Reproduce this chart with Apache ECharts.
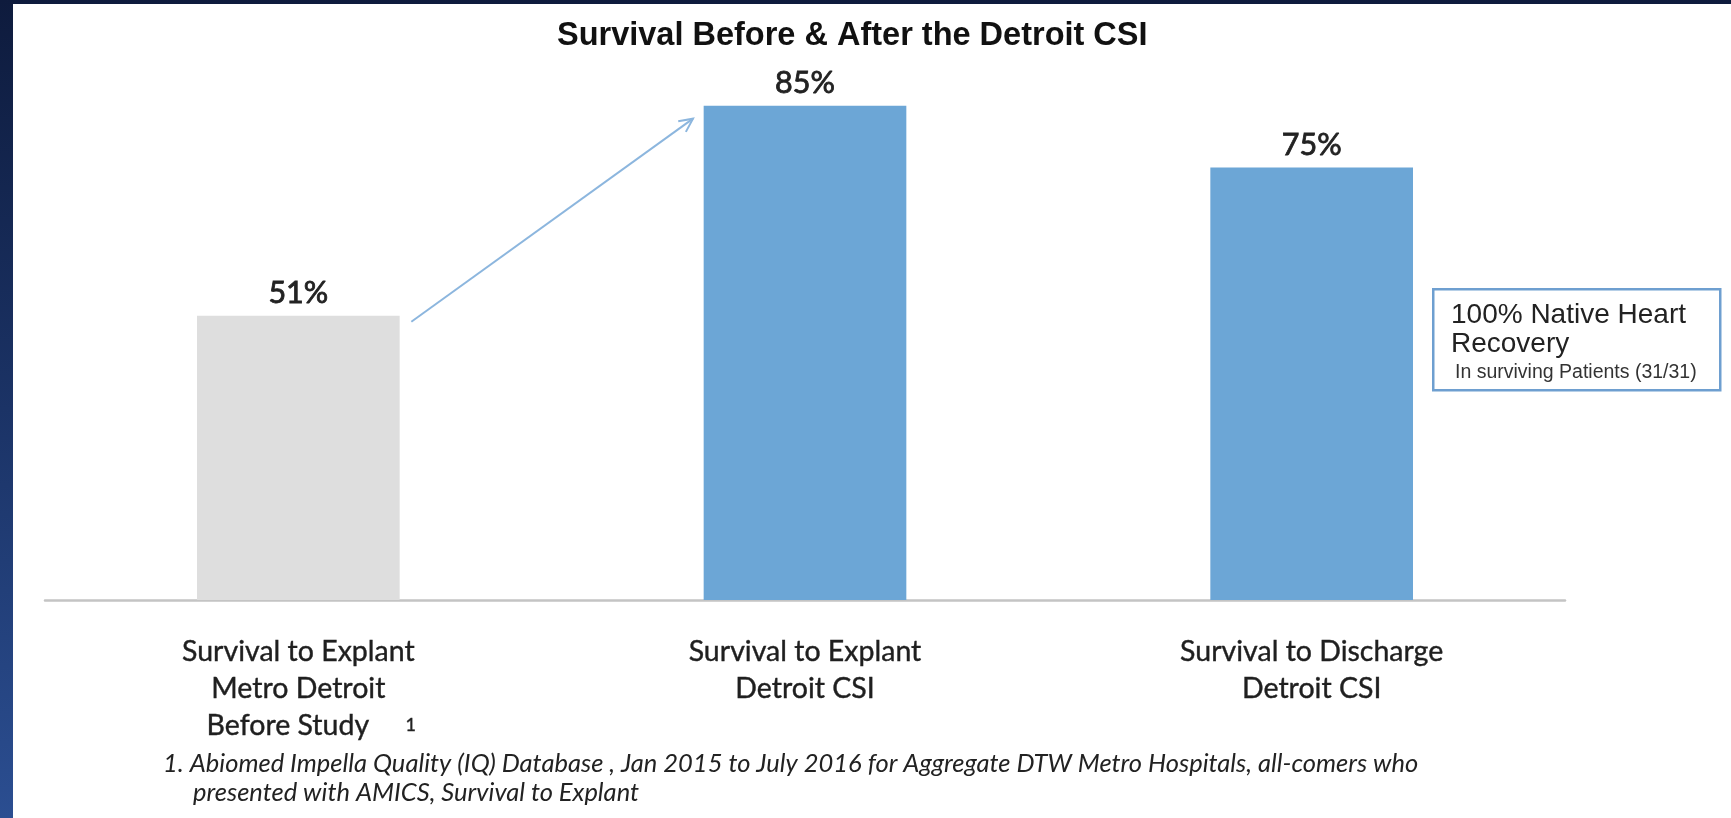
<!DOCTYPE html>
<html>
<head>
<meta charset="utf-8">
<script src="https://cdn.jsdelivr.net/npm/echarts@6/dist/echarts.min.js"></script>
<style>
  html, body { margin:0; padding:0; width:1731px; height:818px; overflow:hidden;
    background: linear-gradient(180deg, #0e1b3d 0%, #1b3366 50%, #2b4e91 100%); }
  #panel { position:absolute; left:13px; top:4px; right:0; bottom:0; background:#ffffff; }
  #chart { position:absolute; left:0; top:0; width:1731px; height:818px; }
</style>
</head>
<body>
<div id="panel"></div>
<div id="chart"></div>
<script>
// ---- data ----
const categories = [
  'Survival to Explant\nMetro Detroit\nBefore Study',
  'Survival to Explant\nDetroit CSI',
  'Survival to Discharge\nDetroit CSI'
];
const survivalPct = [51, 85, 75];
const barColors = ['#dedede', '#6ca6d6', '#6ca6d6'];
const titleText = 'Survival Before & After the Detroit CSI';
const footnoteLines = [
  '1. Abiomed Impella Quality (IQ) Database , Jan 2015 to July 2016 for Aggregate DTW Metro Hospitals, all-comers who',
  'presented with AMICS, Survival to Explant'
];
const boxLines = ['100% Native Heart', 'Recovery', 'In surviving Patients (31/31)'];

const chart = echarts.init(document.getElementById('chart'), null, {renderer:'canvas'});

const option = {
  backgroundColor: 'transparent',
  animation: false,
  title: {
    text: titleText,
    left: 552,
    top: 15,
    textStyle: { fontFamily: 'Liberation Sans, Arial', fontWeight: 'bold', fontSize: 32.5, color: '#111' }
  },
  grid: { left: 45, right: 166, top: 13, bottom: 218 },
  xAxis: {
    type: 'category',
    data: categories,
    axisLine: { lineStyle: { color: '#c4c4c4', width: 2.5 } },
    axisTick: { show: false },
    axisLabel: {
      margin: 33,
      color: '#1f1f1f',
      fontFamily: 'Lato',
      fontSize: 28.5,
      lineHeight: 37,
      textBorderColor: '#1f1f1f',
      textBorderWidth: 0.4,
      formatter: function (v, i) {
        if (i === 0) {
          const parts = v.split('\n');
          return parts[0] + '\n' + parts[1] + '\n' + '{pad|}' + parts[2] + '     {sup|1}';
        }
        return v;
      },
      rich: {
        pad: { width: 26, lineHeight: 37 },
        sup: { fontFamily: 'Lato', fontSize: 18, color: '#222', verticalAlign: 'middle', lineHeight: 37 }
      }
    }
  },
  yAxis: { type: 'value', min: 5, max: 100, show: false, splitLine: { show: false } },
  series: [{
    type: 'bar',
    barWidth: '40%',
    data: survivalPct.map((v, i) => ({ value: v, itemStyle: { color: barColors[i] } })),
    label: {
      show: true,
      position: 'top',
      distance: 7,
      formatter: '{c}%',
      fontFamily: 'Lato',
      fontSize: 30.5,
      color: '#222',
      textBorderColor: '#222',
      textBorderWidth: 0.8
    }
  }]
};
chart.setOption(option);

// arrow between first and second bar, computed from data positions
const p0 = chart.convertToPixel({ seriesIndex: 0 }, [0, survivalPct[0]]);
const p1 = chart.convertToPixel({ seriesIndex: 0 }, [1, survivalPct[1]]);
const s = [p0[0] + 113, p0[1] + 6];
const e = [p1[0] - 112, p1[1] + 13];
const ang = Math.atan2(e[1] - s[1], e[0] - s[0]);
const hl = 15, ha = 0.45;
const h1 = [e[0] - hl * Math.cos(ang - ha), e[1] - hl * Math.sin(ang - ha)];
const h2 = [e[0] - hl * Math.cos(ang + ha), e[1] - hl * Math.sin(ang + ha)];

chart.setOption({
  graphic: [
    { type: 'line', shape: { x1: s[0], y1: s[1], x2: e[0], y2: e[1] },
      style: { stroke: '#8cb6de', lineWidth: 2 }, silent: true },
    { type: 'polyline', shape: { points: [h1, e, h2] },
      style: { stroke: '#8cb6de', lineWidth: 2, fill: null }, silent: true },
    { type: 'rect', left: 1432, top: 288, shape: { width: 287, height: 101 },
      style: { fill: '#fff', stroke: '#6e9fd0', lineWidth: 2.5 }, silent: true },
    { type: 'text', left: 1451, top: 301,
      style: { text: boxLines[0], font: '28px "Liberation Sans", Arial', fill: '#222' } },
    { type: 'text', left: 1451, top: 330,
      style: { text: boxLines[1], font: '28px "Liberation Sans", Arial', fill: '#222' } },
    { type: 'text', left: 1455, top: 363,
      style: { text: boxLines[2], font: '19.5px "Liberation Sans", Arial', fill: '#333' } },
    { type: 'text', left: 163, top: 751,
      style: { text: footnoteLines[0], font: 'italic 25.5px Lato', fill: '#222' } },
    { type: 'text', left: 193, top: 780,
      style: { text: footnoteLines[1], font: 'italic 25.5px Lato', fill: '#222' } }
  ]
});
</script>
</body>
</html>
